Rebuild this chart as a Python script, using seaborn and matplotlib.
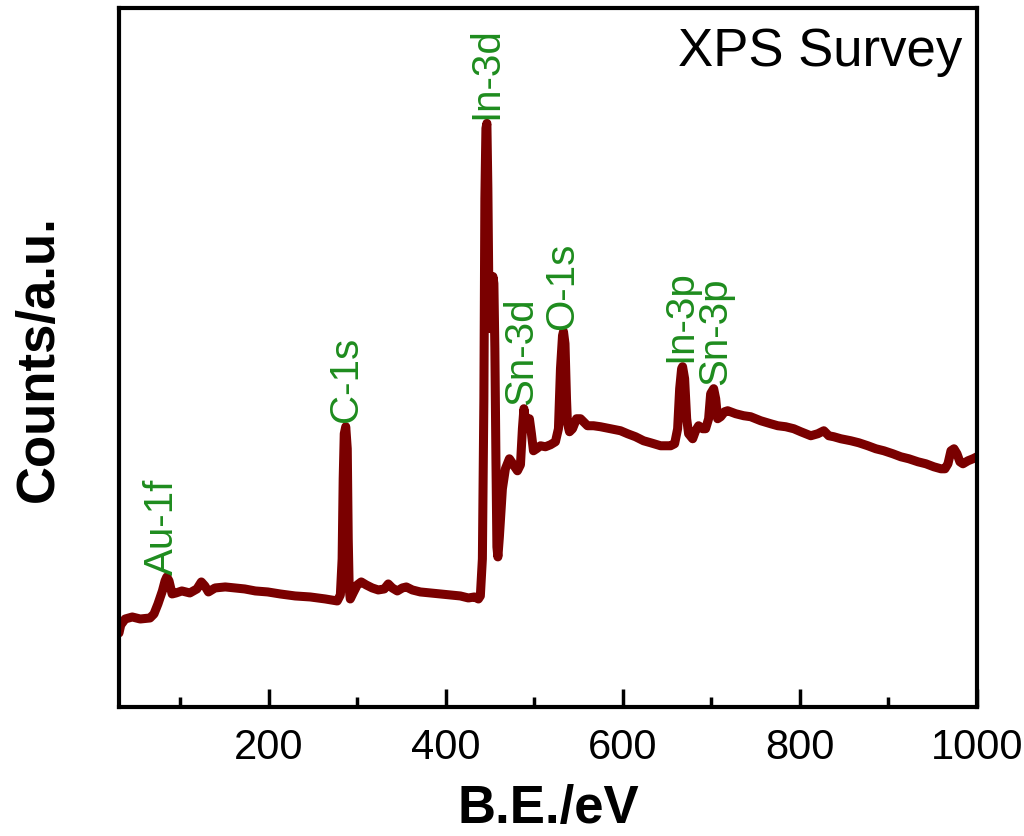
import numpy as np
import matplotlib
matplotlib.use("Agg")
import matplotlib.pyplot as plt
import seaborn as sns
import pandas as pd

binding_energy = [
    31, 33, 38, 46, 55, 66, 70.5, 75, 80, 83, 85, 87.5, 91, 95.4, 102, 111, 119, 124, 128, 132,
    139.5, 151, 162, 173, 185, 199, 213, 230, 247, 264, 277.5, 281, 283, 284.2, 285.4, 287.1,
    288.8, 289.9, 291, 292.2, 295.5, 300.1, 304.6, 310.2, 317, 323.8, 330.6, 335.1, 339.6, 345.3,
    351, 355.5, 362.3, 371.3, 382.6, 393.9, 405.2, 416.5, 425.6, 432.4, 436.9, 439.1, 441.4,
    443.1, 444.2, 445.4, 446.5, 447.6, 448.8, 449.9, 451.6, 453.3, 454.4, 455.5, 456.7, 457.8,
    458.9, 460.6, 464.0, 467.4, 471.9, 476.5, 481.0, 484.4, 486.6, 488.3, 490.6, 492.3, 494.5,
    496.8, 499.1, 502.5, 507.0, 512.6, 518.3, 523.9, 527.3, 529.6, 531.9, 533.0, 534.7, 536.4,
    537.5, 539.8, 543.2, 547.7, 552.2, 560.1, 566.9, 574.8, 586.1, 597.4, 605.4, 614.4, 623.4,
    631.4, 642.7, 654.0, 658.5, 661.9, 664.2, 666.4, 667.5, 669.8, 672.1, 674.3, 678.9, 682.2,
    685.6, 690.2, 693.5, 696.9, 699.2, 702.6, 704.9, 707.1, 710.5, 715.0, 718.4, 727.5, 736.5,
    744.4, 755.7, 767.0, 775.0, 784.0, 793.1, 801.0, 812.3, 820.2, 827.0, 832.6, 838.3, 846.2,
    857.5, 866.5, 876.7, 885.8, 894.8, 905.0, 914.0, 923.1, 933.3, 942.3, 951.3, 959.3, 963.8,
    967.2, 970.6, 974.0, 977.4, 980.7, 984.1, 989.8, 995.4, 1000,
]
counts = [
    74, 82, 88, 90, 88, 89, 93, 103, 116, 126, 130, 126, 113, 114, 116, 114, 118, 125, 121, 115,
    119, 120, 119, 118, 116, 115, 113, 111, 110, 108, 106, 112, 148, 228, 273, 280,
    258, 168, 118, 108, 114, 122, 125, 122, 119, 117, 118, 123, 119, 116,
    119, 120, 117, 115, 114, 113, 112, 111, 109, 110, 108, 111, 148,
    308, 508, 578, 583, 518, 408, 378, 408, 430, 423, 358, 248, 160,
    150, 170, 218, 238, 248, 242, 236, 242, 278, 298, 283, 286, 288,
    273, 256, 258, 261, 260, 262, 265, 278, 338, 371, 375, 363, 308,
    283, 275, 278, 288, 288, 281, 281, 280, 278, 276, 273, 270, 266,
    264, 261, 261, 263, 278, 318, 338, 340, 328, 288, 273, 268, 276,
    281, 278, 278, 288, 313, 318, 308, 288, 290, 295, 296, 293, 291,
    290, 286, 283, 281, 280, 278, 275, 271, 273, 276, 271, 270, 268,
    266, 264, 261, 258, 256, 253, 250, 248, 245, 243, 240, 238, 238,
    243, 256, 258, 253, 245, 243, 246, 248, 250,
]

peak_labels = ["Au-1f", "C-1s", "In-3d", "Sn-3d", "O-1s", "In-3p", "Sn-3p"]
peak_label_ev = [79.6, 287, 446, 485.5, 532, 665.0, 704.5]
peak_label_y = [133, 286, 588, 303, 378, 346, 323]

x_ticks = [200, 400, 600, 800, 1000]
x_minor_ticks = [100, 300, 500, 700, 900]

sns.set_style("white")
plt.rcParams["font.family"] = ["Liberation Sans", "DejaVu Sans"]
plt.rcParams["text.color"] = "black"
plt.rcParams["axes.labelcolor"] = "black"
plt.rcParams["xtick.color"] = "black"
plt.rcParams["ytick.color"] = "black"

fig = plt.figure(figsize=(10.24, 8.37), dpi=100)
ax = fig.add_axes([0.1162, 0.154, 0.8379, 0.835])

df = pd.DataFrame({"BE": binding_energy, "Counts": counts})
sns.lineplot(data=df, x="BE", y="Counts", ax=ax, color="#7a0000", linewidth=6.5,
             sort=False, estimator=None)

ax.set_xlim(31, 1000)
ax.set_ylim(0, 698)
ax.set_xticks(x_ticks)
ax.set_xticks(x_minor_ticks, minor=True)
ax.set_xticklabels([str(t) for t in x_ticks])
ax.set_yticks([])
ax.tick_params(axis="x", which="major", direction="in", length=13, width=2.5,
               labelsize=30, pad=14, bottom=True, top=False, colors="black")
ax.tick_params(axis="x", which="minor", direction="in", length=7, width=2.5,
               bottom=True, top=False, colors="black")
for sp in ax.spines.values():
    sp.set_linewidth(3)
    sp.set_color("black")

ax.set_xlabel("B.E./eV", fontsize=38, fontweight="bold", labelpad=12, color="black")
ax.set_ylabel("Counts/a.u.", fontsize=38, fontweight="bold", labelpad=40, color="black")

for name, xe, ye in zip(peak_labels, peak_label_ev, peak_label_y):
    ax.text(xe, ye, name, rotation=90, ha="center", va="bottom",
            color="#1e8c1e", fontsize=29)

ax.text(0.983, 0.975, "XPS Survey", transform=ax.transAxes, ha="right", va="top",
        fontsize=38, color="black")

fig.savefig("out.png", dpi=100)
